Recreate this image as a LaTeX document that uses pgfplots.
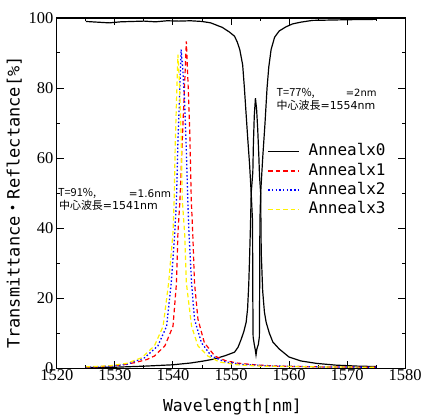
\documentclass[border=0pt]{standalone}
\usepackage{fontspec}
\setmainfont{Liberation Serif}
\newfontfamily\monofnt{DejaVu Sans Mono}
\newfontfamily\cjk{Noto Sans CJK JP}
\newfontfamily\dvs{DejaVu Sans}
\usepackage{pgfplots}
\pgfplotsset{compat=1.18}
\begin{document}
\begin{tikzpicture}
\begin{axis}[
  width=349pt, height=351pt, scale only axis,
  xmin=1520, xmax=1580, ymin=0, ymax=100,
  xtick={1520,1530,...,1580}, ytick={0,20,...,100},
  minor x tick num=1, minor y tick num=1,
  tick align=inside, major tick length=7pt, minor tick length=3.5pt,
  axis line style={line width=1.2pt},
  every tick/.style={black, line width=1pt},
  /pgf/number format/assume math mode=true,
  /pgf/number format/1000 sep={},
  tick label style={font=\fontsize{16.5}{16.5}\selectfont},
  xticklabel style={yshift=2pt},
  xlabel={Wavelength[nm]},
  ylabel={Transmittance{\cjk ・}Reflectance[\%]},
  xlabel style={font=\monofnt\fontsize{16.5}{17}\selectfont, at={(ticklabel cs:0.504)}, yshift=-11pt},
  ylabel style={font=\monofnt\fontsize{17}{17}\selectfont, at={(ticklabel cs:0.473)}},
  legend style={at={(0.6046,0.646)}, anchor=north west, draw=none, fill=none,
    inner sep=0pt, outer sep=0pt, row sep=0pt,
    font=\monofnt\fontsize{16}{17}\selectfont,
    nodes={inner sep=1.9pt, text height=12pt, text depth=3.5pt},
    /tikz/every odd column/.append style={column sep=7pt}},
  legend cell align=left,
  legend image code/.code={\draw[#1, line width=1.4pt] (0pt,0pt) -- (31pt,0pt);},
]
% Annealx0 transmittance
\addplot[black, line width=1.2pt] coordinates {
(1525,99.0) (1527,98.8) (1529,98.6) (1531,98.9) (1533,99.0) (1535,99.1)
(1537,98.9) (1539,99.2) (1541,99.1) (1543,99.2) (1545,99.0) (1546.5,98.6)
(1548.5,97.3) (1549.7,96.0) (1550.6,94.8) (1551.1,93.0) (1551.5,91.0)
(1552.0,86.6) (1552.3,80.0) (1552.6,72.4) (1552.9,65.0) (1553.2,58.0)
(1553.47,50.0) (1553.7,42) (1553.75,20) (1553.8,9) (1554.0,6.8) (1554.15,5.5)
(1554.3,3.8) (1554.45,5.5) (1554.7,6.8) (1554.88,9) (1554.92,20) (1554.97,42)
(1555.1,50) (1555.45,60) (1555.85,70) (1556.2,80) (1556.5,86) (1556.9,91)
(1557.5,94.5) (1558.3,96.3) (1559.5,97.5) (1560.6,98.3) (1562,98.8)
(1564,99.3) (1567,99.4) (1570,99.5) (1575,99.6)
};
\addlegendentry{Annealx0}
% Annealx0 reflectance
\addplot[black, line width=1.2pt, forget plot] coordinates {
(1525,0.2) (1530,0.3) (1535,0.6) (1540,1.0) (1543,1.5) (1545,2.0) (1547,2.6)
(1549,3.6) (1550.6,4.6) (1551.2,6.0) (1551.75,8.3) (1552.2,10.5) (1552.6,13.1)
(1552.85,17) (1553.05,24) (1553.2,32) (1553.35,41) (1553.47,50)
(1553.75,56) (1553.85,64) (1554.0,72) (1554.2,77.1) (1554.4,74) (1554.6,68)
(1554.8,60) (1554.9,55) (1555.1,50) (1555.2,33) (1555.45,22) (1555.75,16)
(1556.05,13.1) (1556.6,10) (1557.2,7.5) (1558.3,5.5) (1560,3.2) (1562,2.1)
(1564.7,1.4) (1568,0.9) (1572,0.6) (1575,0.5)
};
% Annealx1
\addplot[color=red, line width=1.2pt, dash pattern=on 4.5pt off 3pt] coordinates {
(1525,0.3) (1528,0.5) (1531,0.9) (1533.4,1.6) (1535.5,2.5) (1536.8,3.5)
(1538.6,6.4) (1540.0,12) (1540.6,24.4) (1540.85,38.7) (1541.2,48) (1541.6,65)
(1542.0,81) (1542.3,93.3) (1542.6,81) (1542.9,66.7) (1543.15,48) (1543.4,38.7)
(1543.7,24.4) (1544.3,14) (1545.4,7.3) (1547.2,3.5) (1549,2.2) (1551,1.5)
(1554,1.0) (1558,0.6) (1565,0.4) (1575,0.3)
};
\addlegendentry{Annealx1}
% Annealx2
\addplot[color=blue, line width=1.3pt, dash pattern=on 1.5pt off 2.2pt] coordinates {
(1525,0.3) (1529,0.6) (1532,1.1) (1535.1,3) (1537.4,6.4) (1538.9,12)
(1539.7,24.4) (1540.3,38.7) (1540.6,48) (1540.85,64.8) (1541.1,76) (1541.4,91)
(1541.7,85) (1542.0,76) (1542.3,62) (1542.55,48) (1542.75,38.7) (1543.2,24.4)
(1543.7,14) (1544.9,7.3) (1546.6,3.5) (1549,1.8) (1552,1.1) (1556,0.7)
(1565,0.4) (1575,0.3)
};
\addlegendentry{Annealx2}
% Annealx3
\addplot[color=yellow, line width=1.2pt, dash pattern=on 4.5pt off 3pt] coordinates {
(1525,0.4) (1529,0.7) (1532,1.4) (1534.6,3) (1536.8,6.4) (1538.3,12)
(1539.25,24.4) (1540.0,38.7) (1540.2,48) (1540.4,65) (1540.6,76) (1540.85,89.5)
(1541.1,82) (1541.4,66.7) (1541.6,48) (1542.0,38.7) (1542.3,24.4) (1543.2,12)
(1544.3,6.4) (1546.0,3.5) (1548,1.8) (1551,1.0) (1555,0.6) (1565,0.4) (1575,0.3)
};
\addlegendentry{Annealx3}
% annotations
\node[anchor=west, inner sep=0pt, font=\cjk\fontsize{11}{11}\selectfont] at (axis cs:1557.82,78.55) {T=77\%,};
\node[anchor=east, inner sep=0pt, font=\dvs\fontsize{10}{11}\selectfont] at (axis cs:1575.1,78.55) {=2nm};
\node[anchor=west, inner sep=0pt, font=\fontsize{11}{11}\selectfont] at (axis cs:1557.82,75.2) {{\cjk 中心波長}{\dvs =1554nm}};
\node[anchor=west, inner sep=0pt, font=\cjk\fontsize{11}{11}\selectfont] at (axis cs:1520.17,49.86) {T=91\%,};
\node[anchor=east, inner sep=0pt, font=\dvs\fontsize{10.5}{11}\selectfont] at (axis cs:1539.72,49.86) {=1.6nm};
\node[anchor=west, inner sep=0pt, font=\fontsize{11}{11}\selectfont] at (axis cs:1520.34,46.44) {{\cjk 中心波長}{\dvs =1541nm}};
\end{axis}
\path ([shift={(-57pt,-47pt)}]current axis.south west) rectangle ([shift={(19pt,18pt)}]current axis.north east);
\end{tikzpicture}
\end{document}
